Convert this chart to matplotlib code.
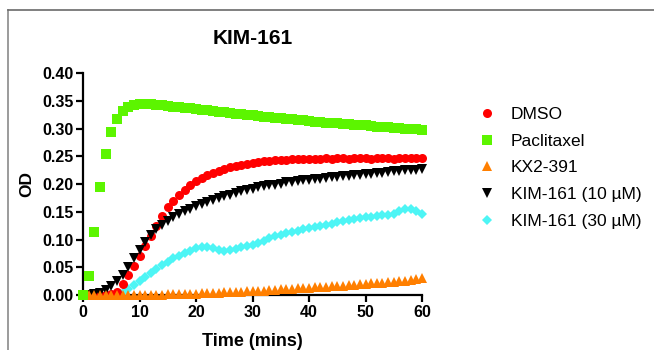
import matplotlib
matplotlib.use("Agg")
import matplotlib.pyplot as plt
from matplotlib.lines import Line2D

plt.rcParams['font.family'] = ['Liberation Sans', 'DejaVu Sans']

time = list(range(0, 61))

dmso = [0.000, 0.000, 0.000, 0.000, 0.000, 0.001, 0.005, 0.020, 0.036, 0.053,
        0.071, 0.089, 0.107, 0.125, 0.143, 0.158, 0.170, 0.181, 0.190, 0.198,
        0.205, 0.211, 0.216, 0.220, 0.224, 0.228, 0.231, 0.233, 0.235, 0.237,
        0.239, 0.240, 0.241, 0.242, 0.243, 0.244, 0.244, 0.245, 0.245, 0.246,
        0.246, 0.246, 0.246, 0.247, 0.246, 0.247, 0.247, 0.246, 0.247, 0.247,
        0.247, 0.246, 0.247, 0.247, 0.247, 0.246, 0.247, 0.247, 0.247, 0.247,
        0.247]

paclitaxel = [0.000, 0.034, 0.114, 0.195, 0.254, 0.294, 0.318, 0.332, 0.340, 0.343,
              0.345, 0.345, 0.344, 0.343, 0.342, 0.341, 0.340, 0.339, 0.338, 0.337,
              0.335, 0.334, 0.333, 0.332, 0.331, 0.330, 0.328, 0.327, 0.326, 0.325,
              0.324, 0.323, 0.322, 0.321, 0.320, 0.319, 0.318, 0.317, 0.316, 0.315,
              0.314, 0.313, 0.312, 0.311, 0.311, 0.310, 0.309, 0.308, 0.307, 0.307,
              0.306, 0.305, 0.304, 0.303, 0.303, 0.302, 0.301, 0.300, 0.300, 0.299,
              0.298]

kx2_391 = [0.000, 0.000, 0.000, 0.000, 0.000, 0.000, 0.000, 0.000, 0.000, 0.000,
           0.000, 0.000, 0.000, 0.000, 0.000, 0.001, 0.001, 0.001, 0.002, 0.002,
           0.002, 0.003, 0.003, 0.004, 0.004, 0.005, 0.005, 0.006, 0.006, 0.007,
           0.007, 0.008, 0.008, 0.009, 0.009, 0.010, 0.011, 0.011, 0.012, 0.012,
           0.013, 0.014, 0.014, 0.015, 0.016, 0.016, 0.017, 0.018, 0.018, 0.019,
           0.020, 0.021, 0.021, 0.022, 0.023, 0.024, 0.025, 0.026, 0.027, 0.028,
           0.030]

kim_10 = [0.000, 0.000, 0.001, 0.004, 0.009, 0.016, 0.025, 0.036, 0.050, 0.066,
          0.082, 0.096, 0.109, 0.119, 0.127, 0.134, 0.141, 0.147, 0.152, 0.156,
          0.160, 0.164, 0.168, 0.171, 0.175, 0.178, 0.181, 0.184, 0.187, 0.189,
          0.192, 0.194, 0.196, 0.198, 0.199, 0.201, 0.203, 0.204, 0.205, 0.207,
          0.208, 0.209, 0.210, 0.211, 0.212, 0.213, 0.214, 0.215, 0.216, 0.217,
          0.218, 0.219, 0.220, 0.221, 0.222, 0.223, 0.224, 0.225, 0.226, 0.226,
          0.227]

kim_30 = [0.000, 0.000, 0.000, 0.000, 0.000, 0.000, 0.001, 0.004, 0.010, 0.018,
          0.026, 0.033, 0.040, 0.047, 0.054, 0.060, 0.066, 0.071, 0.076, 0.080,
          0.084, 0.087, 0.087, 0.084, 0.081, 0.080, 0.081, 0.083, 0.086, 0.089,
          0.091, 0.093, 0.097, 0.102, 0.106, 0.109, 0.111, 0.113, 0.116, 0.119,
          0.121, 0.123, 0.125, 0.126, 0.129, 0.131, 0.133, 0.135, 0.137, 0.139,
          0.140, 0.141, 0.143, 0.145, 0.145, 0.147, 0.152, 0.156, 0.155, 0.152,
          0.147]

labels = ['DMSO', 'Paclitaxel', 'KX2-391', 'KIM-161 (10 \u00b5M)', 'KIM-161 (30 \u00b5M)']
xticks = [0, 10, 20, 30, 40, 50, 60]
yticks = [0.00, 0.05, 0.10, 0.15, 0.20, 0.25, 0.30, 0.35, 0.40]

fig = plt.figure(figsize=(6.54, 3.5), dpi=100)
ax = fig.add_axes([83 / 654, 1 - 295 / 350, (422 - 83) / 654, (295 - 73.3) / 350])

ms = 6.5
series = [
    (dmso, 'o', '#FF0000', labels[0], 4),
    (paclitaxel, 's', '#5CF500', labels[1], 6),
    (kx2_391, '^', '#FF7F00', labels[2], 5),
    (kim_10, 'v', '#000000', labels[3], 4),
    (kim_30, 'D', '#4DF5F5', labels[4], 3),
]
handles = []
for vals, mk, col, lab, z in series:
    msz = ms * 0.85 if mk == 'D' else ms
    h, = ax.plot(time, vals, linestyle='none', marker=mk, color=col,
                 markersize=msz, markeredgewidth=0, label=lab, clip_on=False,
                 zorder=z)
    handles.append(h)

ax.set_xlim(0, 60)
ax.set_ylim(0, 0.40)
ax.set_xticks(xticks)
ax.set_yticks(yticks)
ax.set_yticklabels(['%.2f' % v for v in yticks])
for s in ['top', 'right']:
    ax.spines[s].set_visible(False)
for s in ['left', 'bottom']:
    ax.spines[s].set_linewidth(1.6)
    ax.spines[s].set_zorder(2.5)
ax.tick_params(direction='out', length=5, width=1.6, labelsize=11.5, pad=2)
for t in ax.get_xticklabels() + ax.get_yticklabels():
    t.set_fontweight('bold')

ax.set_title('KIM-161', fontsize=15, fontweight='bold', pad=21)
ax.set_xlabel('Time (mins)', fontsize=13, fontweight='bold')
ax.set_ylabel('OD', fontsize=12.5, fontweight='bold')
ax.xaxis.set_label_coords(0.5, (295 - 333) / 221.7)
ax.yaxis.set_label_coords((34 - 83) / 339, 0.5)

fs = 12.5
leg = fig.legend(handles=handles, labels=labels, loc='upper left',
                 bbox_to_anchor=(478 / 654, 1 - 107 / 350), frameon=False,
                 fontsize=fs, labelspacing=0.66, handletextpad=0.88,
                 handlelength=1.0, borderaxespad=0, borderpad=0)

# outer frame of the screenshot
fig.add_artist(Line2D([8 / 654, 8 / 654], [0, 1 - 10 / 350], transform=fig.transFigure,
                      color='#8a8a8a', linewidth=1.2))
fig.add_artist(Line2D([8 / 654, 1], [1 - 10 / 350, 1 - 10 / 350], transform=fig.transFigure,
                      color='#6a6a6a', linewidth=1.2))

fig.savefig('out.png', dpi=100)
